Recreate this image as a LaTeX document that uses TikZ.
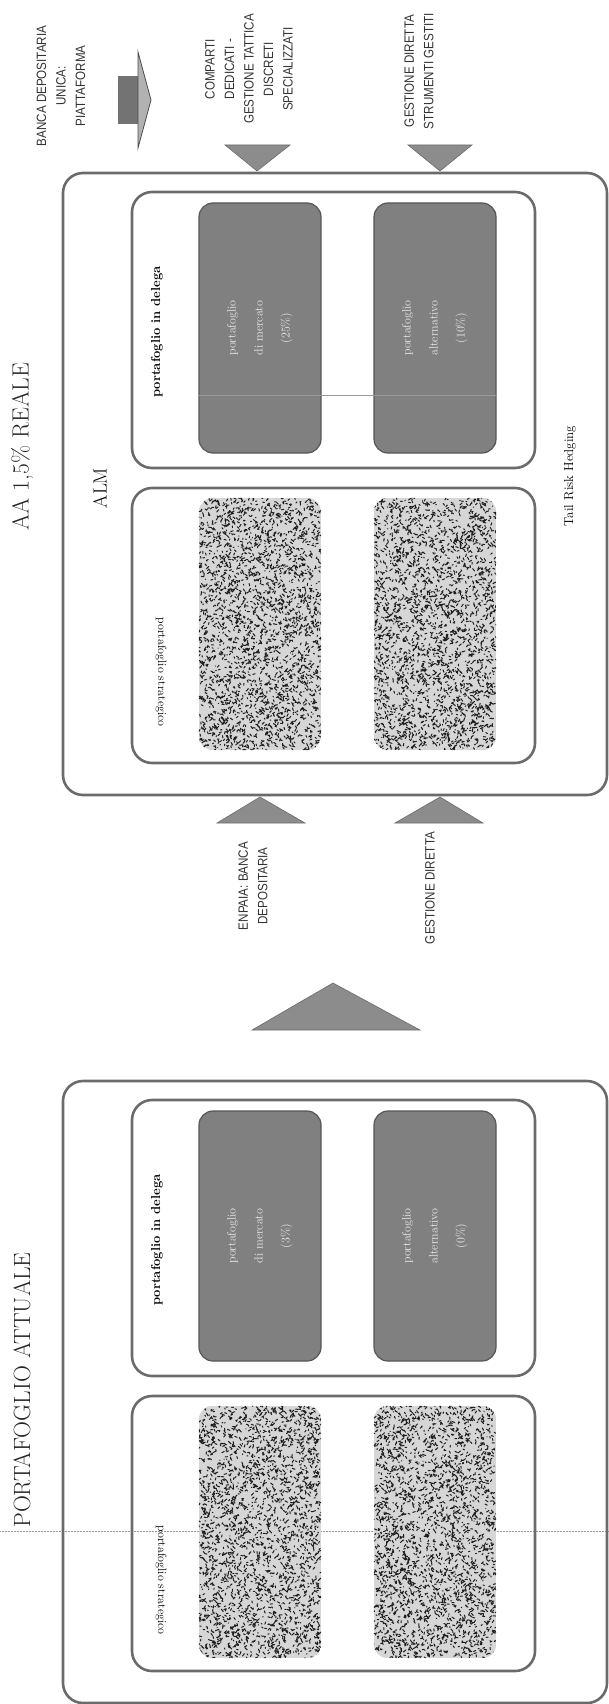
\documentclass[tikz,border=0pt]{standalone}
\usepackage{fontspec}
\newfontfamily\capsfont[FakeStretch=0.86]{Liberation Sans}
\usetikzlibrary{calc}
\definecolor{rim}{gray}{0.42}
\definecolor{slab}{gray}{0.50}
\definecolor{wedgefill}{gray}{0.55}
\tikzset{
  frame/.style={draw=rim,line width=2.6pt,rounded corners=20pt,inner sep=0pt},
  slabbox/.style={draw=rim!80!black,fill=slab,line width=1.2pt,rounded corners=14pt,
    minimum width=122pt,minimum height=250pt,inner sep=0pt},
  grainbox/.style={minimum width=122pt,minimum height=252pt,inner sep=0pt},
  wedge/.style={fill=wedgefill,draw=rim,line width=0.6pt},
  caps/.style={font=\capsfont\fontsize{13.5}{19.5}\selectfont,align=center,rotate=90,text=black!80},
  slabtext/.style={font=\fontsize{12}{27}\selectfont,align=center,rotate=90,text=white!92!black},
  title/.style={font=\fontsize{23.5}{26}\selectfont,rotate=90,text=black!85},
}

\begin{document}
\begin{tikzpicture}[x=1pt,y=-1pt]
  \useasboundingbox (0,0) rectangle (609,1704);
  \pgfmathsetseed{2024}
  % scan line across the lower block
  \draw[black!40,densely dotted,line width=0.5pt] (0,1531) -- (609,1531);

  \foreach \blk/\dy/\pcm/\pca in {up/0/25\%/10\%, lo/908/3\%/0\%}{
    \node[frame,minimum width=544pt,minimum height=622pt] (\blk-outer) at (335,{484+\dy}) {};
    \node[frame,minimum width=403pt,minimum height=276pt] (\blk-delega) at (333.5,{330+\dy}) {};
    \node[frame,minimum width=403pt,minimum height=275pt] (\blk-strat) at (333.5,{625.5+\dy}) {};
    \node[slabbox] (\blk-slab1) at (260,{328+\dy}) {};
    \node[slabbox] (\blk-slab2) at (435,{328+\dy}) {};
    \node[slabtext] at (\blk-slab1) {portafoglio\\di mercato\\(\pcm)};
    \node[slabtext] at (\blk-slab2) {portafoglio\\alternativo\\(\pca)};
    \node[font=\bfseries\fontsize{13}{15}\selectfont,rotate=90] (\blk-delega-lab) at (157,{332+\dy}) {portafoglio in delega};
    \node[font=\fontsize{12}{14}\selectfont\addfontfeatures{LetterSpace=5},rotate=-90] (\blk-strat-lab) at (161,{672+\dy}) {portafoglio strategico};
    \foreach \i/\cx in {1/260,2/435}{
      \node[grainbox] (\blk-grain\i) at (\cx,{624+\dy}) {};
      \begin{scope}
        \clip[rounded corners=14pt] (\blk-grain\i.north west) rectangle (\blk-grain\i.south east);
        \fill[black!16] (\blk-grain\i.north west) rectangle (\blk-grain\i.south east);
        \draw[black!88,line width=1pt,line cap=round]
          \foreach \k in {1,...,2600}{ ({\cx-61+rnd*122},{\dy+498+rnd*252}) -- ++({2.5*rand},{2.5*rand}) };
      \end{scope}
    }
  }
  % faint scan line through the upper dark boxes
  \draw[white!60!black,line width=0.4pt] (up-slab1.west |- 0,395) -- (up-slab2.east |- 0,395);

  % titles and inner labels
  \node[title] (realeTitle) at (22,447) {AA 1,5\% REALE};
  \node[title] (attualeTitle) at (22,1390) {PORTAFOGLIO ATTUALE};
  \node[font=\fontsize{19}{22}\selectfont,rotate=90] (almLab) at (100,488) {ALM};
  \node[font=\fontsize{13}{15}\selectfont,rotate=90] (tailLab) at (570,476) {Tail Risk Hedging};

  % wedges on the upper block
  \fill[wedge] (257,171) -- (225,145) -- (290,145) -- cycle;
  \fill[wedge] (440,171) -- (408,145) -- (472,145) -- cycle;
  \fill[wedge] (260,797) -- (217,823) -- (305,823) -- cycle;
  \fill[wedge] (440,797) -- (395,823) -- (483,823) -- cycle;
  % big wedge between the blocks
  \fill[wedge] (333,983) -- (252,1030) -- (420,1030) -- cycle;

  % small block arrow
  \fill[black!55] (118,76) rectangle (138,124);
  \filldraw[fill=black!30,draw=black!70,line width=0.8pt] (138,52) -- (151,100) -- (138,148) -- cycle;

  \node[caps] (bancaLab) at (61,86) {BANCA DEPOSITARIA\\UNICA:\\PIATTAFORMA};
  \node[caps] (compartiLab) at (249,69) {COMPARTI\\DEDICATI -\\GESTIONE TATTICA\\DISCRETI\\SPECIALIZZATI};
  \node[caps] (strumentiLab) at (419,71) {GESTIONE DIRETTA\\STRUMENTI GESTITI};
  \node[caps] (enpaiaLab) at (253,886) {ENPAIA: BANCA\\DEPOSITARIA};
  \node[caps] (direttaLab) at (430,888) {GESTIONE DIRETTA};
\end{tikzpicture}
\end{document}
